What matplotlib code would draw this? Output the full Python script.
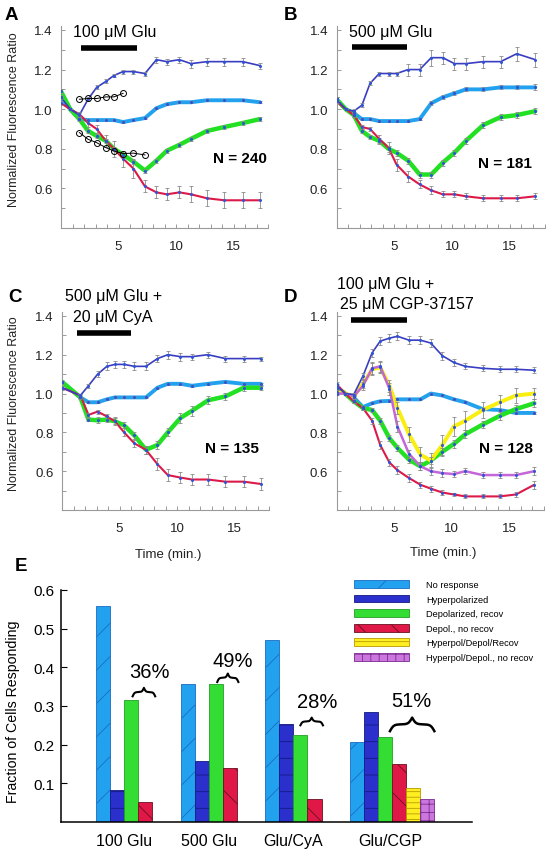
import numpy as np
import matplotlib.pyplot as plt
from matplotlib.patches import Patch

plt.rcParams['font.family'] = ['Liberation Sans', 'DejaVu Sans']
plt.rcParams['hatch.linewidth'] = 0.6

# ====== DATA: panel A (100 uM Glu) ======
t_a = [0, 0.8, 1.6, 2.35, 3.1, 3.9, 4.6, 5.4, 6.3, 7.3, 8.3, 9.2, 10.3, 11.3, 12.7, 14.2, 15.8, 17.3]
a_hyp = [1.06, 1.00, 0.97, 1.05, 1.11, 1.14, 1.17, 1.19, 1.19, 1.18, 1.25, 1.24, 1.25, 1.23, 1.24, 1.24, 1.24, 1.22]
a_hyp_err = [0.01, 0, 0.01, 0.01, 0.01, 0.01, 0.01, 0.01, 0.01, 0.01, 0.015, 0.015, 0.015, 0.02, 0.02, 0.02, 0.02, 0.015]
a_none = [1.06, 1.00, 0.95, 0.945, 0.945, 0.945, 0.945, 0.935, 0.945, 0.955, 1.005, 1.025, 1.035, 1.035, 1.045, 1.045, 1.045, 1.035]
a_none_err = [0.005, 0, 0.005, 0.005, 0.005, 0.005, 0.005, 0.005, 0.005, 0.005, 0.005, 0.005, 0.005, 0.005, 0.005, 0.005, 0.005, 0.005]
a_rec = [1.09, 1.00, 0.95, 0.89, 0.865, 0.84, 0.80, 0.77, 0.735, 0.69, 0.74, 0.79, 0.82, 0.85, 0.89, 0.91, 0.93, 0.95]
a_rec_err = [0.01, 0, 0.01, 0.01, 0.01, 0.01, 0.01, 0.01, 0.01, 0.01, 0.01, 0.01, 0.01, 0.01, 0.01, 0.01, 0.01, 0.01]
a_norec = [1.03, 1.00, 0.975, 0.93, 0.90, 0.84, 0.80, 0.75, 0.70, 0.61, 0.58, 0.57, 0.58, 0.57, 0.55, 0.54, 0.54, 0.54]
a_norec_err = [0.01, 0, 0.01, 0.02, 0.02, 0.03, 0.04, 0.04, 0.05, 0.03, 0.03, 0.03, 0.03, 0.04, 0.04, 0.04, 0.04, 0.04]
# open-circle reference traces in A
a_ref_t1 = [1.6, 2.35, 3.1, 3.9, 4.6, 5.4]
a_ref_hi = [1.05, 1.054, 1.054, 1.062, 1.062, 1.08]
a_ref_t2 = [1.6, 2.35, 3.1, 3.9, 4.6, 5.4, 6.3, 7.3]
a_ref_lo = [0.882, 0.848, 0.831, 0.806, 0.789, 0.776, 0.778, 0.769]

# ====== DATA: panel B (500 uM Glu) ======
t_b = [0, 0.8, 1.5, 2.2, 2.9, 3.7, 4.5, 5.2, 6.2, 7.2, 8.2, 9.2, 10.2, 11.2, 12.7, 14.2, 15.6, 17.2]
b_hyp = [1.05, 1.00, 0.99, 1.02, 1.13, 1.18, 1.18, 1.18, 1.20, 1.20, 1.26, 1.26, 1.23, 1.23, 1.24, 1.24, 1.28, 1.25]
b_hyp_err = [0.01, 0, 0.01, 0.01, 0.01, 0.01, 0.01, 0.01, 0.03, 0.03, 0.04, 0.03, 0.03, 0.03, 0.03, 0.03, 0.035, 0.035]
b_none = [1.05, 1.00, 0.98, 0.95, 0.95, 0.94, 0.94, 0.94, 0.94, 0.95, 1.03, 1.06, 1.08, 1.10, 1.10, 1.11, 1.11, 1.11]
b_none_err = [0.01, 0, 0.005, 0.005, 0.005, 0.005, 0.005, 0.005, 0.005, 0.005, 0.01, 0.01, 0.01, 0.01, 0.01, 0.01, 0.01, 0.015]
b_rec = [1.05, 1.00, 0.97, 0.89, 0.86, 0.84, 0.80, 0.78, 0.74, 0.67, 0.67, 0.73, 0.78, 0.84, 0.92, 0.96, 0.97, 0.99]
b_rec_err = [0.01, 0, 0.01, 0.01, 0.01, 0.015, 0.015, 0.015, 0.015, 0.015, 0.015, 0.015, 0.015, 0.015, 0.015, 0.015, 0.015, 0.015]
b_norec = [1.04, 1.00, 0.97, 0.91, 0.90, 0.85, 0.805, 0.72, 0.66, 0.62, 0.59, 0.57, 0.57, 0.56, 0.55, 0.55, 0.55, 0.56]
b_norec_err = [0.01, 0, 0.01, 0.01, 0.01, 0.02, 0.03, 0.03, 0.03, 0.02, 0.02, 0.015, 0.015, 0.015, 0.015, 0.015, 0.015, 0.015]

# ====== DATA: panel C (500 uM Glu + 20 uM CyA) ======
t_c = [0, 1.6, 2.3, 3.1, 3.9, 4.6, 5.4, 6.3, 7.3, 8.3, 9.2, 10.3, 11.3, 12.7, 14.2, 15.8, 17.3]
c_hyp = [1.03, 0.99, 1.04, 1.10, 1.14, 1.15, 1.15, 1.14, 1.14, 1.18, 1.20, 1.19, 1.19, 1.20, 1.18, 1.18, 1.18]
c_hyp_err = [0.01, 0.01, 0.01, 0.015, 0.02, 0.02, 0.02, 0.02, 0.02, 0.02, 0.02, 0.02, 0.015, 0.015, 0.015, 0.015, 0.01]
c_none = [1.06, 0.98, 0.955, 0.955, 0.97, 0.98, 0.98, 0.98, 0.98, 1.03, 1.05, 1.05, 1.04, 1.05, 1.06, 1.05, 1.05]
c_none_err = [0.005, 0.005, 0.005, 0.005, 0.005, 0.005, 0.005, 0.005, 0.005, 0.005, 0.005, 0.005, 0.005, 0.005, 0.005, 0.005, 0.005]
c_rec = [1.06, 0.98, 0.866, 0.862, 0.866, 0.857, 0.836, 0.784, 0.71, 0.735, 0.80, 0.874, 0.911, 0.965, 0.985, 1.03, 1.03]
c_rec_err = [0.01, 0.01, 0.01, 0.015, 0.015, 0.015, 0.015, 0.02, 0.02, 0.02, 0.02, 0.025, 0.025, 0.02, 0.02, 0.015, 0.01]
c_norec = [1.03, 0.99, 0.89, 0.907, 0.882, 0.857, 0.80, 0.743, 0.71, 0.636, 0.58, 0.567, 0.557, 0.557, 0.546, 0.546, 0.534]
c_norec_err = [0.01, 0.01, 0.01, 0.01, 0.015, 0.02, 0.02, 0.02, 0.02, 0.03, 0.03, 0.03, 0.03, 0.03, 0.03, 0.03, 0.03]

# ====== DATA: panel D (100 uM Glu + 25 uM CGP-37157) ======
t_d = [0, 0.75, 1.5, 2.3, 3.1, 3.8, 4.6, 5.3, 6.3, 7.3, 8.2, 9.2, 10.2, 11.2, 12.7, 14.2, 15.6, 17.2]
d_hyp = [1.04, 1.00, 0.995, 1.09, 1.21, 1.27, 1.285, 1.295, 1.275, 1.275, 1.26, 1.195, 1.16, 1.14, 1.13, 1.125, 1.125, 1.12]
d_hyp_err = [0.01, 0, 0.01, 0.015, 0.02, 0.02, 0.02, 0.02, 0.02, 0.02, 0.02, 0.02, 0.02, 0.015, 0.015, 0.015, 0.015, 0.015]
d_none = [1.03, 1.00, 0.98, 0.93, 0.95, 0.96, 0.962, 0.97, 0.97, 0.97, 1.00, 0.99, 0.97, 0.955, 0.92, 0.915, 0.90, 0.90]
d_none_err = [0.01, 0, 0.005, 0.005, 0.005, 0.005, 0.005, 0.005, 0.005, 0.005, 0.005, 0.005, 0.005, 0.005, 0.005, 0.005, 0.005, 0.005]
d_rec = [1.03, 1.00, 0.96, 0.925, 0.915, 0.86, 0.77, 0.72, 0.66, 0.625, 0.655, 0.70, 0.74, 0.79, 0.84, 0.885, 0.92, 0.95]
d_rec_err = [0.01, 0, 0.01, 0.01, 0.01, 0.015, 0.015, 0.015, 0.02, 0.02, 0.02, 0.02, 0.02, 0.02, 0.02, 0.02, 0.02, 0.02]
d_norec = [1.05, 1.00, 0.96, 0.925, 0.86, 0.735, 0.645, 0.605, 0.565, 0.53, 0.51, 0.49, 0.48, 0.47, 0.47, 0.47, 0.48, 0.53]
d_norec_err = [0.01, 0, 0.01, 0.01, 0.015, 0.02, 0.02, 0.02, 0.02, 0.015, 0.015, 0.015, 0.01, 0.01, 0.01, 0.01, 0.015, 0.02]
d_hdr = [1.01, 1.00, 0.985, 1.05, 1.125, 1.135, 1.04, 0.925, 0.79, 0.685, 0.655, 0.735, 0.83, 0.86, 0.915, 0.955, 0.99, 1.00]
d_hdr_err = [0.01, 0, 0.01, 0.02, 0.03, 0.03, 0.03, 0.03, 0.04, 0.04, 0.04, 0.05, 0.05, 0.05, 0.04, 0.04, 0.04, 0.03]
d_hdn = [1.00, 1.00, 0.985, 1.04, 1.13, 1.14, 1.025, 0.83, 0.69, 0.625, 0.60, 0.59, 0.585, 0.60, 0.58, 0.58, 0.58, 0.60]
d_hdn_err = [0.01, 0, 0.01, 0.02, 0.03, 0.03, 0.03, 0.03, 0.02, 0.02, 0.02, 0.02, 0.015, 0.015, 0.015, 0.015, 0.015, 0.02]

# drug application (start, end) in min and N per panel
drug_on = [(1.7, 6.65), (1.3, 6.1), (1.3, 6.0), (1.3, 6.1)]
n_cells = [240, 181, 135, 128]

# ====== DATA: panel E ======
groups = ['100 Glu', '500 Glu', 'Glu/CyA', 'Glu/CGP']
frac_none = [0.559, 0.357, 0.471, 0.207]
frac_hyp = [0.084, 0.157, 0.254, 0.284]
frac_rec = [0.316, 0.357, 0.224, 0.221]
frac_norec = [0.052, 0.139, 0.060, 0.150]
frac_hdr = [0.088]   # Glu/CGP only
frac_hdn = [0.060]   # Glu/CGP only
pct = ['36%', '49%', '28%', '51%']

# colours
C_HYP = '#3a3dc0'
C_NONE = '#22a2ee'
C_REC = '#22e022'
C_NOREC = '#dc1a4a'
C_HDR = '#f8ee10'
C_HDN = '#c466d8'

fig = plt.figure(figsize=(5.59, 8.53), dpi=100)


def fx(x):
    return x / 559


def fy(y):
    return 1 - y / 853


def trace(ax, t, y, err, color, lw):
    ax.plot(t, y, color=color, lw=lw, zorder=3, solid_capstyle='round')
    ax.errorbar(t, y, yerr=err, fmt='none', ecolor='#8a8a8a', elinewidth=0.6,
                capsize=1.5, capthick=0.6, zorder=4)
    ax.plot(t, y, 'o', ms=2.2, color='#2f55d6', mec='none', zorder=5)


def setup(ax):
    ax.set_xlim(0, 18)
    ax.set_ylim(0.4, 1.42)
    for s in ['top', 'right']:
        ax.spines[s].set_visible(False)
    for s in ['left', 'bottom']:
        ax.spines[s].set_color('#9a9a9a')
        ax.spines[s].set_linewidth(0.8)
    ax.set_xticks(range(1, 19))
    ax.set_xticklabels([str(i) if i % 5 == 0 else '' for i in range(1, 19)])
    ax.set_yticks([0.5, 0.6, 0.7, 0.8, 0.9, 1.0, 1.1, 1.2, 1.3, 1.4])
    ax.set_yticklabels(['', '0.6', '', '0.8', '', '1.0', '', '1.2', '', '1.4'])
    ax.tick_params(direction='in', length=3, width=0.7, color='#9a9a9a',
                   labelsize=9.5, labelcolor='#222222')
    ax.tick_params(axis='x', pad=9)
    ax.tick_params(axis='y', pad=6)


# ====== TRACE PANELS ======
ax_a = fig.add_axes([fx(61), fy(229), fx(207), 202 / 853])
ax_b = fig.add_axes([fx(336.5), fy(229), fx(208), 202 / 853])
ax_c = fig.add_axes([fx(62), fy(511), fx(207), 198 / 853])
ax_d = fig.add_axes([fx(336.5), fy(511), fx(207), 198 / 853])

panels = [
    (ax_a, t_a, [(a_none, a_none_err), (a_rec, a_rec_err), None, None, (a_norec, a_norec_err), (a_hyp, a_hyp_err)]),
    (ax_b, t_b, [(b_none, b_none_err), (b_rec, b_rec_err), None, None, (b_norec, b_norec_err), (b_hyp, b_hyp_err)]),
    (ax_c, t_c, [(c_none, c_none_err), (c_rec, c_rec_err), None, None, (c_norec, c_norec_err), (c_hyp, c_hyp_err)]),
    (ax_d, t_d, [(d_none, d_none_err), (d_rec, d_rec_err), (d_hdr, d_hdr_err), (d_hdn, d_hdn_err),
                 (d_norec, d_norec_err), (d_hyp, d_hyp_err)]),
]
styles = [(C_NONE, 2.8), (C_REC, 3.2), (C_HDR, 2.8), (C_HDN, 1.8), (C_NOREC, 1.5), (C_HYP, 1.2)]
bar_y = [1.311, 1.314, 1.31, 1.38]
n_pos = [(15.6, 0.755), (14.6, 0.73), (14.8, 0.72), (14.7, 0.72)]

for k, (ax, t, series) in enumerate(panels):
    setup(ax)
    for s, (col, lw) in zip(series, styles):
        if s is not None:
            trace(ax, t, s[0], s[1], col, lw)
    ax.hlines(bar_y[k], drug_on[k][0], drug_on[k][1], color='black', lw=4)
    ax.text(n_pos[k][0], n_pos[k][1], 'N = %d' % n_cells[k], ha='center', va='center',
            fontsize=11, fontweight='bold')

# open-circle traces in A
ax_a.plot(a_ref_t1, a_ref_hi, '-o', color='black', lw=0.7, ms=4.3, mfc='none', mew=0.7, zorder=6)
ax_a.plot(a_ref_t2, a_ref_lo, '-o', color='black', lw=0.7, ms=4.3, mfc='none', mew=0.7, zorder=6)

# titles and labels
fig.text(fx(73), fy(33), '100 μM Glu', fontsize=11.5, va='center')
fig.text(fx(349), fy(33), '500 μM Glu', fontsize=11.5, va='center')
fig.text(fx(65), fy(297), '500 μM Glu +', fontsize=11.5, va='center')
fig.text(fx(73), fy(318), '20 μM CyA', fontsize=11.5, va='center')
fig.text(fx(337), fy(285), '100 μM Glu +', fontsize=11.5, va='center')
fig.text(fx(340), fy(305), '25 μM CGP-37157', fontsize=11.5, va='center')

for lab, x, y in [('A', 5, 15), ('B', 284, 15), ('C', 8, 298), ('D', 284, 298), ('E', 15, 567)]:
    fig.text(fx(x), fy(y), lab, fontsize=13.5, fontweight='bold', va='center')

fig.text(fx(14), fy(120), 'Normalized Fluorescence Ratio', rotation=90, fontsize=9,
         ha='center', va='center', color='#222222')
fig.text(fx(14), fy(404), 'Normalized Fluorescence Ratio', rotation=90, fontsize=9,
         ha='center', va='center', color='#222222')
fig.text(fx(168), fy(555), 'Time (min.)', fontsize=9.5, ha='center', va='center', color='#222222')
fig.text(fx(443), fy(553), 'Time (min.)', fontsize=9.5, ha='center', va='center', color='#222222')

# ====== BAR PANEL E ======
ax_e = fig.add_axes([fx(61), fy(823), fx(411), 232 / 853])
ax_e.set_xlim(-2.48, 26.67)
ax_e.set_ylim(0, 0.6)

cats = [
    ('No response', frac_none, C_NONE, '#1a6cc4', '/'),
    ('Hyperpolarized', frac_hyp, '#2b2fcc', '#141a80', '-'),
    ('Depolarized, recov', frac_rec, '#33dd33', '#22a022', ''),
    ('Depol., no recov', frac_norec, '#e01848', '#6a1020', '\\'),
    ('Hyperpol/Depol/Recov', frac_hdr, '#ffee22', '#b89a00', '---'),
    ('Hyperpol/Depol., no recov', frac_hdn, '#cc77dd', '#7a2a90', '++'),
]
handles = []
for i, (name, vals, fc, ec, hatch) in enumerate(cats):
    # categories present for all groups start at group 0; last two only in the CGP group
    g0 = 4 - len(vals) if len(vals) < 4 else 0
    xs = [6 * (g0 + g) + i for g in range(len(vals))]
    ax_e.bar(xs, vals, width=1, align='edge', color=fc, edgecolor=ec, hatch=hatch, lw=0.6)
    handles.append(Patch(facecolor=fc, edgecolor=ec, hatch=hatch, lw=0.6, label=name))


def brace(ax, x1, x2, y, h, lw):
    xs = np.linspace(x1, x2, 201)
    half = xs[:101]
    beta = 24 / (x2 - x1)
    yh = 1 / (1 + np.exp(-beta * (half - half[0]))) + 1 / (1 + np.exp(-beta * (half - half[-1])))
    yy = np.concatenate((yh, yh[-2::-1])) - 0.5
    ax.plot(xs, y + h * yy, color='black', lw=lw)


brace_x = [(2.6, 4.2), (8.6, 10.1), (14.5, 16.1), (20.85, 24.0)]
brace_y = [0.325, 0.362, 0.25, 0.235]
brace_h = [0.022, 0.022, 0.02, 0.035]
pct_pos = [(3.8, 0.388), (9.7, 0.418), (15.7, 0.312), (22.4, 0.314)]
for k in range(4):
    brace(ax_e, brace_x[k][0], brace_x[k][1], brace_y[k], brace_h[k], 1.5 if k < 3 else 1.8)
    ax_e.text(pct_pos[k][0], pct_pos[k][1], pct[k], ha='center', va='center', fontsize=14.5)

for s in ['top', 'right']:
    ax_e.spines[s].set_visible(False)
for s in ['left', 'bottom']:
    ax_e.spines[s].set_linewidth(1.1)
ax_e.set_yticks([0.1, 0.2, 0.3, 0.4, 0.5, 0.6])
ax_e.set_yticklabels(['0.1', '0.2', '0.3', '0.4', '0.5', '0.6'])
ax_e.set_xticks([2, 8, 14, 20.9])
ax_e.set_xticklabels(groups)
ax_e.tick_params(axis='y', direction='in', length=4, width=0.8, labelsize=11, pad=5)
ax_e.tick_params(axis='x', length=0, labelsize=11.5, pad=8)
fig.text(fx(13), fy(712), 'Fraction of Cells Responding', rotation=90, fontsize=10.2,
         ha='center', va='center')

fig.legend(handles=handles, loc='upper left', bbox_to_anchor=(fx(354), fy(581)),
           frameon=False, fontsize=6.7, handlelength=5.9, handleheight=0.93,
           handletextpad=1.85, labelspacing=0.58, borderpad=0, borderaxespad=0)

fig.savefig('out.png', dpi=100)
